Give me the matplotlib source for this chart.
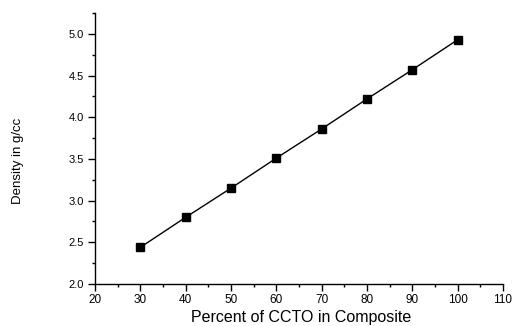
import matplotlib
matplotlib.use("Agg")
import matplotlib.pyplot as plt
from matplotlib.ticker import MultipleLocator, FormatStrFormatter

plt.rcParams['font.family'] = ['Liberation Sans', 'DejaVu Sans']

# density of the composite against CCTO content
ccto_percent = [30, 40, 50, 60, 70, 80, 90, 100]
density = [2.44, 2.80, 3.15, 3.51, 3.86, 4.22, 4.57, 4.93]

fig = plt.figure(figsize=(5.15, 3.26), dpi=100)
ax = fig.add_axes([0.1845, 0.1288, 0.7922, 0.8312])

ax.plot(ccto_percent, density, color='black', linewidth=1.0,
        marker='s', markersize=6, markerfacecolor='black', markeredgecolor='black')

ax.set_xlim(20, 110)
ax.set_ylim(2.0, 5.25)
ax.xaxis.set_major_locator(MultipleLocator(10))
ax.xaxis.set_minor_locator(MultipleLocator(5))
ax.yaxis.set_major_locator(MultipleLocator(0.5))
ax.yaxis.set_minor_locator(MultipleLocator(0.25))
ax.yaxis.set_major_formatter(FormatStrFormatter('%.1f'))

for side in ['top', 'right']:
    ax.spines[side].set_visible(False)
for side in ['left', 'bottom']:
    ax.spines[side].set_linewidth(1.0)

ax.tick_params(which='major', direction='out', length=5, width=1, pad=2)
ax.tick_params(which='minor', direction='out', length=2.5, width=1)
ax.tick_params(axis='x', labelsize=8.5)
ax.tick_params(axis='y', labelsize=8, pad=3)

ax.set_xlabel('Percent of CCTO in Composite', fontsize=11.5)
ax.xaxis.set_label_coords(0.505, -0.095)
ax.set_ylabel('Density in g/cc', fontsize=9.5)
ax.yaxis.set_label_coords(-0.174, 0.456)

fig.savefig('out.png', dpi=100)
